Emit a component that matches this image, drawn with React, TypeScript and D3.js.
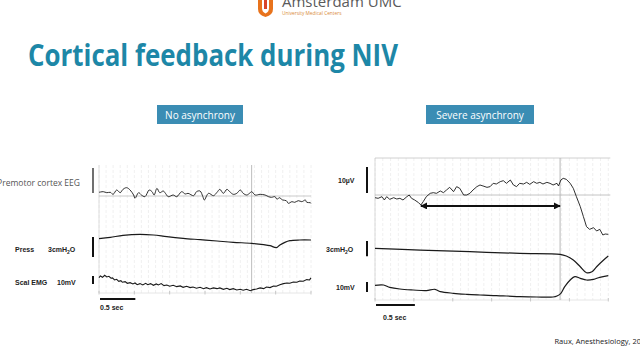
import React from 'react';
import * as d3 from 'd3';

type P = [number, number];

// time (s), amplitude (µV) — left panel, premotor cortex EEG, no asynchrony
const leftEEG: P[] = [
  [0, 1.47], [0.06, 1.73], [0.11, 1.33], [0.16, 1.47], [0.2, 0.67], [0.25, 2.4], [0.3, 1.33], [0.34, 2.67],
  [0.39, 3.33], [0.44, 2.4], [0.49, 0.4], [0.51, -0.93], [0.56, 1.33], [0.6, 0.4], [0.65, -0.27], [0.71, 2.4],
  [0.75, 1.73], [0.78, 0.4], [0.82, 3.07], [0.86, 1.33], [0.91, 2.0], [0.94, 1.07], [0.98, -0.27], [1.05, 0.4],
  [1.1, -0.27], [1.17, 1.73], [1.22, 0.8], [1.26, 1.07], [1.34, 0.13], [1.38, 1.73], [1.43, 2.0], [1.47, -0.27],
  [1.49, -1.6], [1.55, 1.07], [1.62, 0.13], [1.67, 1.47], [1.71, 2.67], [1.76, 1.07], [1.81, 2.67], [1.85, 1.73],
  [1.9, 0.67], [1.95, 1.07], [2.0, 2.4], [2.04, 1.07], [2.09, 0.4], [2.13, 1.07], [2.16, 1.73], [2.21, 0.4],
  [2.28, 0.67], [2.35, 0.4], [2.4, -0.27], [2.44, -0.53], [2.49, -0.27], [2.52, -1.33], [2.55, -0.67], [2.6, -1.6],
  [2.65, -1.87], [2.68, -2.93], [2.73, -2.27], [2.77, -2.53], [2.82, -1.87], [2.87, -2.27], [2.92, -1.6],
  [2.94, -2.53], [2.99, -2.67], [3.0, -2.93],
];

// time (s), pressure (cmH2O, relative)
const leftPress: P[] = [
  [0, 1.7], [0.16, 1.9], [0.34, 2.2], [0.58, 2.35], [0.77, 2.25], [0.96, 2.0], [1.19, 1.75], [1.43, 1.55],
  [1.67, 1.35], [1.9, 1.15], [2.16, 1.0], [2.33, 0.8], [2.42, 0.65], [2.51, 0.35], [2.56, 0.75], [2.63, 1.15],
  [2.7, 1.4], [2.84, 1.5], [3.0, 1.5],
];

// time (s), scalene EMG (mV, relative)
const leftEMG: P[] = [
  [0, 19.6], [0.02, 21.7], [0.05, 20.0], [0.08, 22.5], [0.11, 20.4], [0.14, 21.3], [0.17, 18.8], [0.19, 19.2],
  [0.22, 16.7], [0.25, 17.5], [0.28, 15.0], [0.31, 15.8], [0.33, 13.8], [0.37, 14.6], [0.4, 12.5], [0.44, 13.3],
  [0.48, 11.7], [0.51, 12.9], [0.54, 10.8], [0.58, 12.1], [0.62, 10.4], [0.66, 12.5], [0.69, 10.8], [0.73, 12.1],
  [0.77, 10.0], [0.81, 11.7], [0.84, 10.4], [0.88, 12.1], [0.92, 9.6], [0.96, 10.4], [1.0, 8.8], [1.05, 10.0],
  [1.1, 8.3], [1.15, 9.2], [1.19, 7.5], [1.24, 8.8], [1.29, 7.1], [1.33, 7.9], [1.38, 6.3], [1.43, 7.5],
  [1.48, 5.8], [1.52, 7.1], [1.57, 5.4], [1.62, 6.7], [1.67, 5.8], [1.71, 6.7], [1.76, 5.0], [1.81, 6.3],
  [1.85, 4.6], [1.9, 5.8], [1.95, 4.2], [2.0, 5.0], [2.04, 3.8], [2.09, 5.0], [2.14, 3.3], [2.18, 4.6],
  [2.23, 5.4], [2.28, 6.7], [2.33, 5.8], [2.37, 7.9], [2.42, 7.1], [2.47, 9.2], [2.51, 8.8], [2.56, 10.8],
  [2.61, 12.1], [2.66, 12.9], [2.7, 12.5], [2.75, 14.2], [2.8, 13.8], [2.84, 15.4], [2.89, 15.0], [2.94, 17.1],
  [2.98, 16.7], [3.0, 19.2],
];

// right panel, severe asynchrony
const rightEEG: P[] = [
  [0, -1.03], [0.04, -1.28], [0.09, -0.64], [0.12, -1.92], [0.15, -0.64], [0.19, -1.67], [0.24, -1.03],
  [0.28, -1.54], [0.32, -1.28], [0.36, -1.92], [0.41, -0.64], [0.44, 0], [0.47, -1.28], [0.51, -1.92],
  [0.56, -2.95], [0.59, -3.85], [0.62, -2.56], [0.66, -0.64], [0.71, 0.64], [0.75, 0.9], [0.79, 0.64],
  [0.84, 1.54], [0.88, 0.9], [0.92, 1.92], [0.96, 2.95], [1.01, 1.28], [1.05, 3.21], [1.09, 2.56], [1.14, 0],
  [1.18, 0], [1.22, 0.64], [1.26, 1.92], [1.31, 3.21], [1.35, 3.85], [1.39, 3.46], [1.44, 2.95], [1.48, 3.21],
  [1.52, 4.49], [1.56, 4.23], [1.61, 5.13], [1.65, 5.51], [1.69, 4.49], [1.74, 5.77], [1.78, 3.85],
  [1.82, 3.21], [1.86, 4.49], [1.91, 4.23], [1.95, 4.87], [1.99, 4.1], [2.04, 5.13], [2.08, 4.49], [2.12, 4.87],
  [2.16, 4.23], [2.21, 4.87], [2.25, 4.49], [2.29, 3.85], [2.34, 4.49], [2.36, 3.46], [2.39, 5.77],
  [2.42, 6.41], [2.46, 6.03], [2.51, 4.49], [2.55, 2.56], [2.59, -0.64], [2.64, -4.49], [2.68, -8.33],
  [2.72, -12.18], [2.76, -13.21], [2.81, -12.56], [2.85, -13.85], [2.89, -13.21], [2.93, -15.38],
  [2.96, -15.0], [3.0, -15.13],
];

const rightPress: P[] = [
  [0, 5.56], [0.58, 5.23], [1.22, 4.9], [1.86, 4.58], [2.38, 4.38], [2.46, 4.05], [2.55, 3.27], [2.64, 1.96],
  [2.72, 0.78], [2.79, 0.98], [2.85, 1.96], [2.94, 3.27], [3.0, 4.05],
];

const rightEMG: P[] = [
  [0, 18.0], [0.11, 18.3], [0.19, 16.0], [0.32, 14.3], [0.49, 13.3], [0.66, 12.7], [0.77, 14.0], [0.84, 11.7],
  [1.01, 10.0], [1.18, 9.0], [1.35, 8.3], [1.52, 7.7], [1.69, 7.3], [1.86, 6.7], [2.08, 6.3], [2.29, 6.3],
  [2.34, 7.3], [2.39, 10.0], [2.44, 16.7], [2.51, 23.3], [2.57, 26.7], [2.64, 25.0], [2.72, 23.3], [2.81, 24.0],
  [2.89, 26.0], [3.0, 27.7],
];

const leftMarkerT = 2.16;
const rightMarkerT = 2.38;
const arrowSpan: P = [0.59, 2.38];
const arrowLevel = -4.23;

const panelTitles = ['No asynchrony', 'Severe asynchrony'];
const timeBar = 0.5;

const TEAL = '#1d87a7';
const BOX = '#3b8db4';
const TRACE = '#1a1a1a';

export default function App() {
  const xL = d3.scaleLinear().domain([0, 3]).range([99, 311]);
  const xR = d3.scaleLinear().domain([0, 3]).range([375, 608.3]);

  const yLeeg = d3.scaleLinear().domain([0, 10]).range([196, 171]);
  const yLpress = d3.scaleLinear().domain([0, 3]).range([250, 230]);
  const yLemg = d3.scaleLinear().domain([0, 10]).range([293.3, 285.3]);

  const yReeg = d3.scaleLinear().domain([0, 10]).range([195, 169]);
  const yRpress = d3.scaleLinear().domain([0, 3]).range([276.7, 261.4]);
  const yRemg = d3.scaleLinear().domain([0, 10]).range([303.3, 293.3]);

  const mk = (xs: d3.ScaleLinear<number, number>, ys: d3.ScaleLinear<number, number>, smooth = false) => {
    const l = d3.line<P>().x((d) => xs(d[0])).y((d) => ys(d[1]));
    if (smooth) l.curve(d3.curveCatmullRom.alpha(0.5));
    return l;
  };

  const fine = d3.range(0, 3.0001, 0.1);
  const major = d3.range(0, 3.0001, 0.5);

  const font = "'Liberation Sans', Arial, sans-serif";
  const ofont = "'Open Sans', 'Noto Sans', sans-serif";

  const barLen = (s: d3.ScaleLinear<number, number>, v: number) => Math.abs(s(0) - s(v));

  const sub = (label: string, x: number, y: number, anchor: string = 'start') => (
    <text x={x} y={y} fontSize={7} fontFamily={font} fill="#222" textAnchor={anchor} fontWeight={600}>
      {label}
    </text>
  );
  const cmH2O = (x: number, y: number) => (
    <text x={x} y={y} fontSize={7} fontFamily={font} fill="#222" fontWeight={600}>
      3cmH<tspan fontSize={5} dy={2}>2</tspan>
      <tspan dy={-2}>O</tspan>
    </text>
  );

  return (
    <svg
      width={640}
      height={360}
      viewBox="0 0 640 360"
      style={{ position: 'fixed', left: 0, top: 0, background: '#fff', display: 'block' }}
    >
      <defs>
        <marker id="ah" viewBox="0 0 10 10" refX="9" refY="5" markerWidth="7" markerHeight="7" orient="auto-start-reverse" markerUnits="userSpaceOnUse">
          <path d="M0,0 L10,5 L0,10 z" fill="#111" />
        </marker>
      </defs>

      {/* logo */}
      <path d="M258,0 L273,0 L273,9 Q273,15 265.5,17 Q258,15 258,9 Z" fill="#e8731c" />
      <path d="M262,0 L269,0 L269,8 Q269,12 265.5,13.5 Q262,12 262,8 Z" fill="#fff" />
      <path d="M264,0 L267,0 L267,9 L264,9 Z" fill="#d8442a" />
      <text x={282} y={7} fontSize={15} fontFamily={ofont} fill="#5a5a5a">Amsterdam UMC</text>
      <text x={282} y={15} fontSize={4.8} fontFamily={ofont} fill="#d98a3a">University Medical Centers</text>

      {/* title */}
      <text x={28} y={66} fontSize={31} fontFamily={ofont} fontWeight={700} fill={TEAL} textLength={370} lengthAdjust="spacingAndGlyphs">
        Cortical feedback during NIV
      </text>

      {/* panel title boxes */}
      <rect x={157} y={105} width={86} height={19} fill={BOX} />
      <text x={200} y={118.5} fontSize={10} fontFamily={ofont} fill="#fff" textAnchor="middle">{panelTitles[0]}</text>
      <rect x={426} y={105} width={108} height={19} fill={BOX} />
      <text x={480} y={118.5} fontSize={10} fontFamily={ofont} fill="#fff" textAnchor="middle">{panelTitles[1]}</text>

      {/* LEFT PANEL grid */}
      {fine.map((t, i) => (
        <line key={'lf' + i} x1={xL(t)} x2={xL(t)} y1={165} y2={293} stroke="#ececec" strokeWidth={0.8} strokeDasharray="3,2" />
      ))}
      <line x1={xL(0)} x2={xL(0)} y1={165} y2={293} stroke="#d6d6d6" strokeWidth={0.8} />
      <line x1={xL(0)} x2={xL(3)} y1={yLeeg(0)} y2={yLeeg(0)} stroke="#bdbdbd" strokeWidth={0.8} />
      <line x1={xL(0)} x2={xL(3)} y1={293} y2={293} stroke="#e0e0e0" strokeWidth={0.8} />
      {major.map((t, i) => (
        <line key={'lt' + i} x1={xL(t)} x2={xL(t)} y1={291} y2={294.5} stroke="#bdbdbd" strokeWidth={0.8} />
      ))}
      <line x1={xL(leftMarkerT)} x2={xL(leftMarkerT)} y1={165} y2={293} stroke="#b5b5b5" strokeWidth={0.9} />

      {/* LEFT traces */}
      <path d={mk(xL, yLeeg, true)(leftEEG) || ''} fill="none" stroke={TRACE} strokeWidth={0.9} />
      <path d={mk(xL, yLpress, true)(leftPress) || ''} fill="none" stroke={TRACE} strokeWidth={1.2} />
      <path d={mk(xL, yLemg)(leftEMG) || ''} fill="none" stroke={TRACE} strokeWidth={1.1} />

      {/* LEFT labels and scale bars */}
      <text x={80} y={186} fontSize={8.5} fontFamily={ofont} fill="#555" textAnchor="end">Premotor cortex EEG</text>
      <line x1={93} x2={93} y1={168} y2={168 + barLen(yLeeg, 10)} stroke="#111" strokeWidth={1.2} />
      {sub('Press', 15, 251.5)}
      {cmH2O(48, 251.5)}
      <line x1={93} x2={93} y1={237} y2={237 + barLen(yLpress, 3)} stroke="#111" strokeWidth={2} />
      {sub('Scal EMG', 15, 284.5)}
      {sub('10mV', 57, 284.5)}
      <line x1={93} x2={93} y1={276} y2={276 + barLen(yLemg, 10)} stroke="#111" strokeWidth={2} />
      <line x1={xL(0) + 1} x2={xL(timeBar) + 1} y1={299} y2={299} stroke="#111" strokeWidth={2.2} />
      <text x={100} y={310} fontSize={7} fontFamily={font} fill="#222" fontWeight={600}>0.5 sec</text>

      {/* RIGHT PANEL grid */}
      {fine.map((t, i) => (
        <line key={'rf' + i} x1={xR(t)} x2={xR(t)} y1={158} y2={300} stroke="#ececec" strokeWidth={0.8} strokeDasharray="3,2" />
      ))}
      <line x1={xR(0)} x2={xR(0)} y1={158} y2={300} stroke="#d0d0d0" strokeWidth={0.8} />
      <line x1={xR(0)} x2={xR(3) + 2} y1={158} y2={158} stroke="#c4c4c4" strokeWidth={0.8} />
      <line x1={xR(0)} x2={xR(3) + 2} y1={yReeg(0)} y2={yReeg(0)} stroke="#b5b5b5" strokeWidth={0.8} />
      <line x1={xR(0)} x2={xR(3)} y1={300} y2={300} stroke="#e0e0e0" strokeWidth={0.8} />
      {major.map((t, i) => (
        <line key={'rt' + i} x1={xR(t)} x2={xR(t)} y1={298} y2={301.5} stroke="#bdbdbd" strokeWidth={0.8} />
      ))}
      <line x1={xR(rightMarkerT)} x2={xR(rightMarkerT)} y1={158} y2={300} stroke="#b0b0b0" strokeWidth={0.9} />

      {/* RIGHT traces */}
      <path d={mk(xR, yReeg)(rightEEG) || ''} fill="none" stroke={TRACE} strokeWidth={0.9} />
      <path d={mk(xR, yRpress, true)(rightPress) || ''} fill="none" stroke={TRACE} strokeWidth={1.2} />
      <path d={mk(xR, yRemg, true)(rightEMG) || ''} fill="none" stroke={TRACE} strokeWidth={1.2} />
      <line
        x1={xR(arrowSpan[0])}
        x2={xR(arrowSpan[1])}
        y1={yReeg(arrowLevel)}
        y2={yReeg(arrowLevel)}
        stroke="#111"
        strokeWidth={2}
        markerStart="url(#ah)"
        markerEnd="url(#ah)"
      />

      {/* RIGHT labels and scale bars */}
      {sub('10µV', 338, 182.5)}
      <line x1={367} x2={367} y1={167} y2={167 + barLen(yReeg, 10)} stroke="#111" strokeWidth={2} />
      {cmH2O(326, 252)}
      <line x1={367} x2={367} y1={241} y2={241 + barLen(yRpress, 3)} stroke="#111" strokeWidth={2} />
      {sub('10mV', 336, 289.5)}
      <line x1={367} x2={367} y1={282} y2={282 + barLen(yRemg, 10)} stroke="#111" strokeWidth={2} />
      <line x1={xR(0) + 1} x2={xR(timeBar) + 1} y1={305} y2={305} stroke="#111" strokeWidth={2.2} />
      <text x={383} y={320} fontSize={7} fontFamily={font} fill="#222" fontWeight={600}>0.5 sec</text>

      {/* footer */}
      <text x={641} y={344} fontSize={7.5} fontFamily={ofont} fill="#222" textAnchor="end">Raux, Anesthesiology, 20</text>
    </svg>
  );
}
